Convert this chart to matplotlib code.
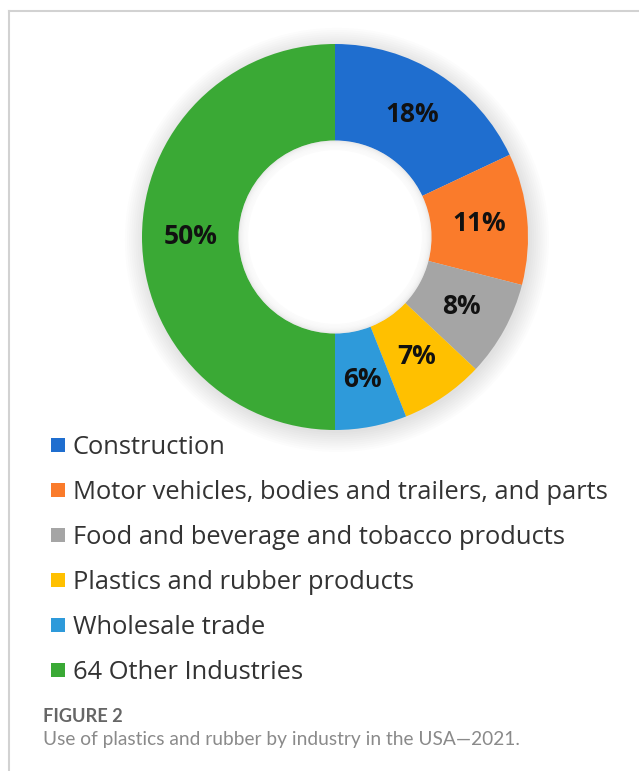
import matplotlib.pyplot as plt
from matplotlib.patches import Rectangle, Circle
import numpy as np

# data
industries = ['Construction',
              'Motor vehicles, bodies and trailers, and parts',
              'Food and beverage and tobacco products',
              'Plastics and rubber products',
              'Wholesale trade',
              '64 Other Industries']
shares = [18, 11, 8, 7, 6, 50]
colors = ['#1F6ECF', '#FA7B2B', '#A5A5A5', '#FFC000', '#2E9ADA', '#3AA935']

W, H = 639, 771
fig = plt.figure(figsize=(W / 100, H / 100), dpi=100)
renderer = fig.canvas.get_renderer()

def px(x, y):
    # pixel (from top-left) -> figure fraction
    return x / W, 1 - y / H

def fit_size(s, target, **kw):
    # font size giving the wanted pixel width
    t = fig.text(0, 0, s, fontsize=10, **kw)
    w = t.get_window_extent(renderer).width
    t.remove()
    return 10 * target / w

# panel border
fig.add_artist(plt.Line2D([9 / W, 1], [1 - 10.5 / H] * 2, color='#d2d2d2', lw=1.5))
fig.add_artist(plt.Line2D([9 / W] * 2, [0, 1 - 10.5 / H], color='#d2d2d2', lw=1.5))

# donut
cx, cy, R = 335, 237, 193
half = 215
ax = fig.add_axes([(cx - half) / W, 1 - (cy + half) / H, 2 * half / W, 2 * half / H])

# soft shadow around the ring
for k in range(10):
    ax.add_patch(Circle((0.01, -0.015), 1.0 + 0.011 * k, color='#000000', alpha=0.01, lw=0, zorder=0))

wedges, texts, autotexts = ax.pie(shares, colors=colors, startangle=90, counterclock=False,
                                  radius=1.0, wedgeprops=dict(width=0.5, linewidth=0),
                                  autopct='%d%%', pctdistance=0.75,
                                  textprops=dict(fontsize=19, fontweight='bold', color='#111111',
                                                 family='Open Sans'))
ax.set_xlim(-half / R, half / R)
ax.set_ylim(-half / R, half / R)
ax.set_aspect('equal')
ax.axis('off')

# inner shadow of the hole
for k in range(8):
    ax.add_patch(Circle((0, 0), 0.5 - 0.007 * k, color='white', alpha=0.3, lw=0, zorder=3))
ax.add_patch(Circle((0, 0), 0.5 - 0.05, color='white', lw=0, zorder=3))

# legend
legend_fs = fit_size(industries[1], 536, family='Open Sans')
for i, (lab, col) in enumerate(zip(industries, colors)):
    yc = 445 + 45 * i
    x0, y0 = px(51, yc + 7)
    fig.add_artist(Rectangle((x0, y0), 14 / W, 14 / H, color=col, lw=0))
    tx, ty = px(73, yc + 9)
    fig.text(tx, ty, lab, fontsize=legend_fs, color='#333333', va='baseline', ha='left',
             family='Open Sans')

# caption
fig_label = 'FIGURE 2'
caption = 'Use of plastics and rubber by industry in the USA\u20142021.'
fx, fy = px(43, 722)
fig.text(fx, fy, fig_label, fontsize=fit_size(fig_label, 80, family='Lato', fontweight='bold'),
         color='#666666', va='baseline', ha='left', family='Lato', fontweight='bold')
fx, fy = px(43, 745)
fig.text(fx, fy, caption, fontsize=fit_size(caption, 478, family='Lato'),
         color='#8a8a8a', va='baseline', ha='left', family='Lato')

fig.savefig('out.png', dpi=100)
